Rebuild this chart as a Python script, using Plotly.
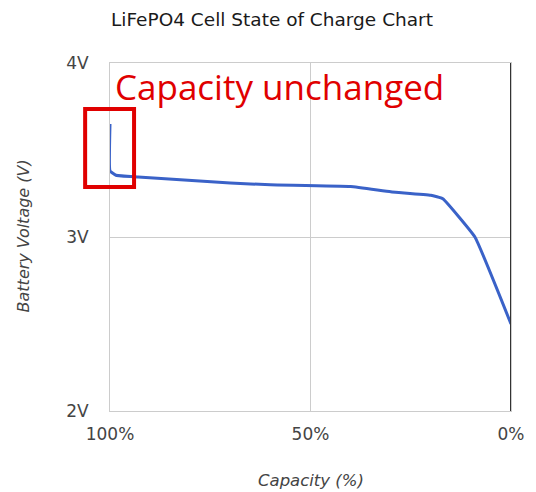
import plotly.graph_objects as go

capacity = [100, 100, 98.5, 93, 70, 60, 40, 30, 20, 17, 9, 0]
voltage = [3.65, 3.38, 3.355, 3.345, 3.31, 3.30, 3.29, 3.26, 3.24, 3.22, 3.0, 2.5]

x_ticks = [100, 50, 0]
x_labels = ["100%", "50%", "0%"]
y_ticks = [2, 3, 4]
y_labels = ["2V", "3V", "4V"]

title = "LiFePO4 Cell State of Charge Chart"
note = "Capacity unchanged"
x_title = "Capacity (%)"
y_title = "Battery Voltage (V)"

W, H = 528, 484  # page has an 8px body margin

fig = go.Figure()
fig.add_trace(go.Scatter(
    x=capacity, y=voltage, mode="lines",
    line=dict(color="#3a62c8", width=3, shape="spline", smoothing=0.3),
    hoverinfo="skip", showlegend=False,
))

font = "DejaVu Sans, Verdana, sans-serif"

fig.update_layout(
    width=W, height=H,
    margin=dict(l=102, r=23, t=55, b=81),
    paper_bgcolor="white", plot_bgcolor="white",
    title=dict(text=title, x=0.5, xanchor="center", y=1 - 12 / H, yanchor="middle",
               font=dict(family=font, size=18.5, color="#1a1a1a")),
    xaxis=dict(range=[100, 0], tickvals=x_ticks, ticktext=x_labels,
               showgrid=True, gridcolor="#cccccc", gridwidth=1,
               zeroline=False, showline=True, linecolor="#cccccc", linewidth=1, mirror=True,
               ticks="", ticklabelstandoff=8, tickfont=dict(family=font, size=17, color="#444")),
    yaxis=dict(range=[2, 4], tickvals=y_ticks, ticktext=y_labels,
               showgrid=True, gridcolor="#cccccc", gridwidth=1,
               zeroline=False, showline=True, linecolor="#cccccc", linewidth=1, mirror=True,
               ticks="", ticklabelstandoff=17, tickfont=dict(family=font, size=17, color="#444")),
)

fig.add_annotation(text="<i>" + x_title + "</i>", xref="paper", yref="paper",
                   x=(312 - 110) / 403, y=(411 - 480) / 348, xanchor="center", yanchor="middle",
                   showarrow=False, font=dict(family=font, size=16.5, color="#444"))
fig.add_annotation(text="<i>" + y_title + "</i>", xref="paper", yref="paper",
                   x=(23 - 110) / 403, y=(411 - 236) / 348, xanchor="center", yanchor="middle",
                   textangle=-90, showarrow=False, font=dict(family=font, size=16, color="#444"))

fig.add_shape(type="line", xref="x", yref="paper", x0=0, x1=0, y0=0, y1=1,
              line=dict(color="#333333", width=2))

fig.add_shape(type="rect", xref="paper", yref="paper",
              x0=-0.062, x1=0.060, y0=0.644, y1=0.868,
              line=dict(color="#e00000", width=4), fillcolor="rgba(0,0,0,0)")

fig.add_annotation(text=note, xref="paper", yref="paper", x=0.007, y=0.932,
                   xanchor="left", yanchor="middle", showarrow=False,
                   font=dict(family="Open Sans, sans-serif", size=35, color="#e00000"))

fig.write_html("out.html")
